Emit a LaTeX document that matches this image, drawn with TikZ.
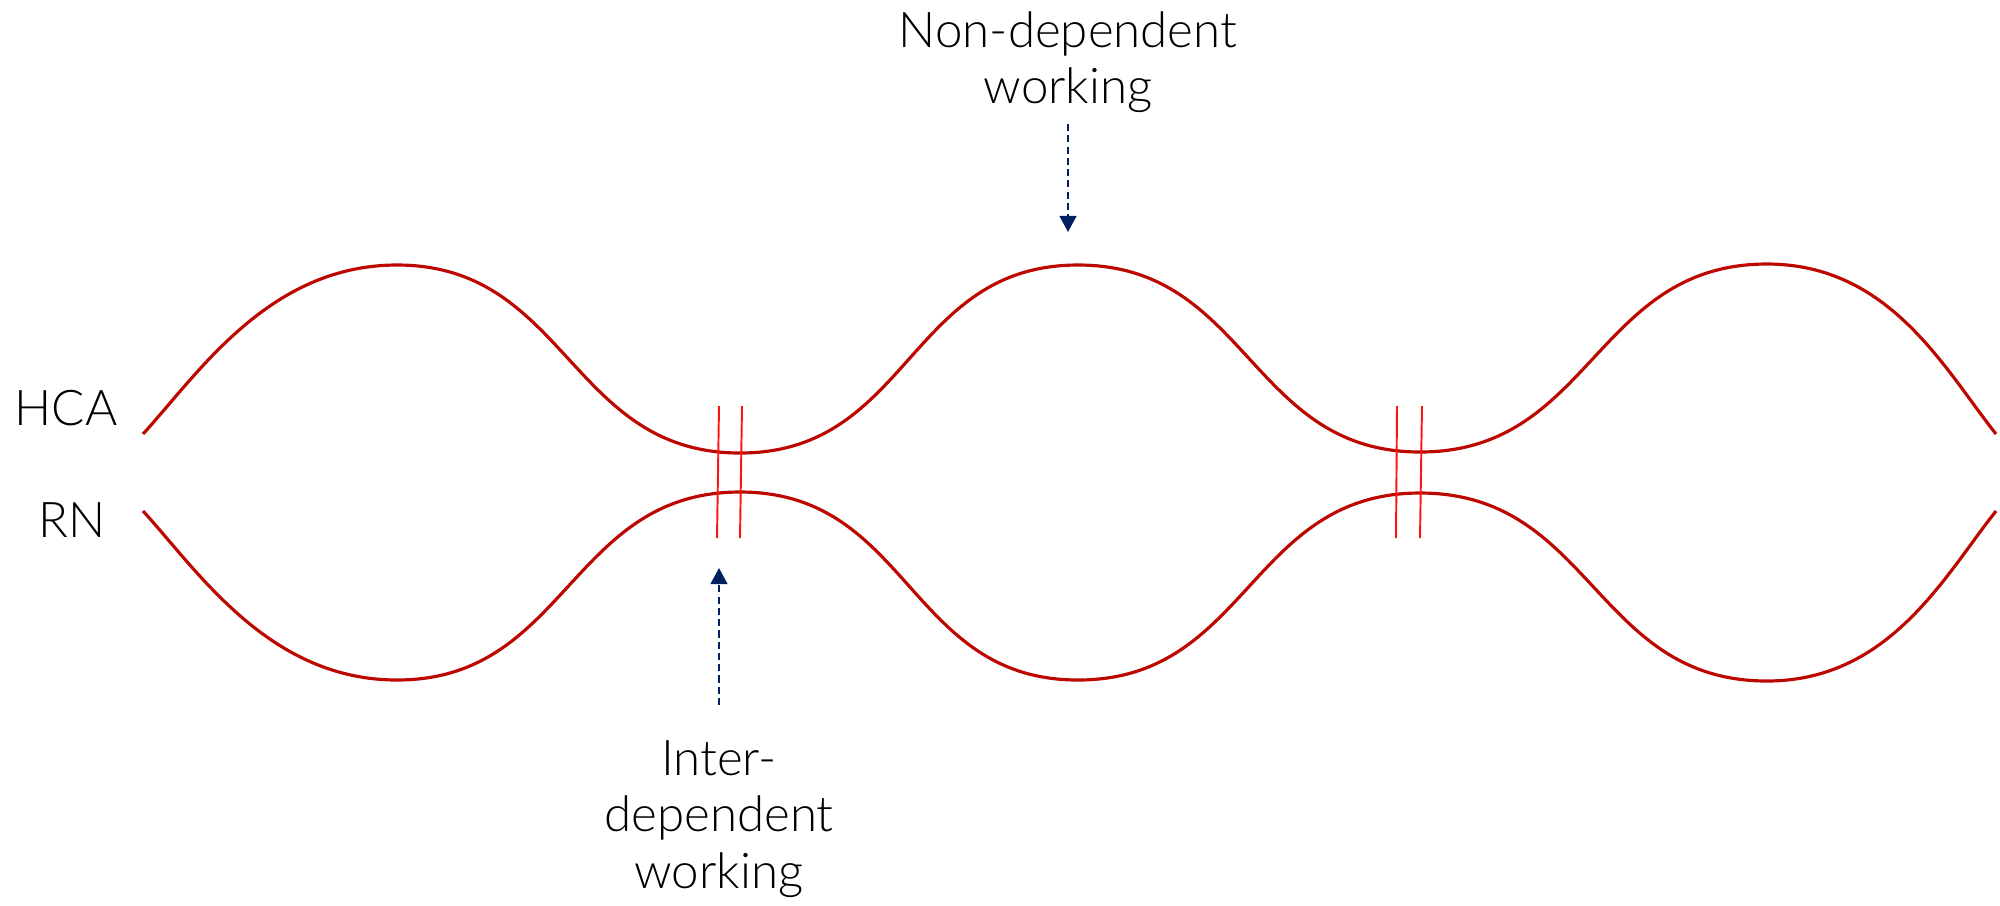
\documentclass[tikz,border=0pt]{standalone}
\usepackage{fontspec}
\setmainfont{Lato Light}
\usepackage{xcolor}
\usetikzlibrary{arrows.meta}
\definecolor{curvered}{RGB}{188,8,0}
\definecolor{tickred}{RGB}{255,20,20}
\definecolor{navy}{RGB}{0,32,96}

\begin{document}
\begin{tikzpicture}[
  x=0.01cm, y=-0.01cm,
  font=\fontsize{14}{16}\selectfont,
  lbl/.style={align=center, inner sep=3pt},
  wave/.style={draw=curvered, line width=0.9pt},
  tick/.style={draw=tickred, line width=0.55pt},
  pointer/.style={-{Triangle[length=4.6pt, width=4.8pt]}, navy, line width=0.6pt, dash pattern=on 2pt off 1.2pt}
]
\useasboundingbox (0,0) rectangle (2000,905);
\node[lbl, anchor=base] (hca) at (66,425) {HCA};
\node[lbl, anchor=base] (rn) at (72,537) {RN};
\draw[wave] (143,434) .. controls (198,374) and (269,265) .. (397,265)
  .. controls (567,265) and (570,453) .. (740,453)
  .. controls (910,453) and (908,265) .. (1078,265)
  .. controls (1248,265) and (1250,452) .. (1420,452)
  .. controls (1592,452) and (1595,264) .. (1767,264)
  .. controls (1890,264) and (1945,370) .. (1996,434);
\draw[wave] (143,511) .. controls (198,571) and (269,680) .. (397,680)
  .. controls (567,680) and (570,492) .. (740,492)
  .. controls (910,492) and (908,680) .. (1078,680)
  .. controls (1248,680) and (1250,493) .. (1420,493)
  .. controls (1592,493) and (1595,681) .. (1767,681)
  .. controls (1890,681) and (1945,575) .. (1996,511);
\draw[tick] (719,406) -- (717,538);
\draw[tick] (742,406) -- (740,538);
\draw[tick] (1397,406) -- (1396,538);
\draw[tick] (1422,406) -- (1420,538);
\coordinate (ndtip) at (1068,232);
\node[lbl, anchor=south] (nondep) at (1068,124) {Non-dependent\\working};
\draw[pointer] (nondep) -- (ndtip);
\coordinate (idtip) at (719,568);
\node[lbl, anchor=north, inner ysep=10pt] (interdep) at (719,705) {Inter-\\dependent\\working};
\draw[pointer] (interdep) -- (idtip);
\end{tikzpicture}
\end{document}
